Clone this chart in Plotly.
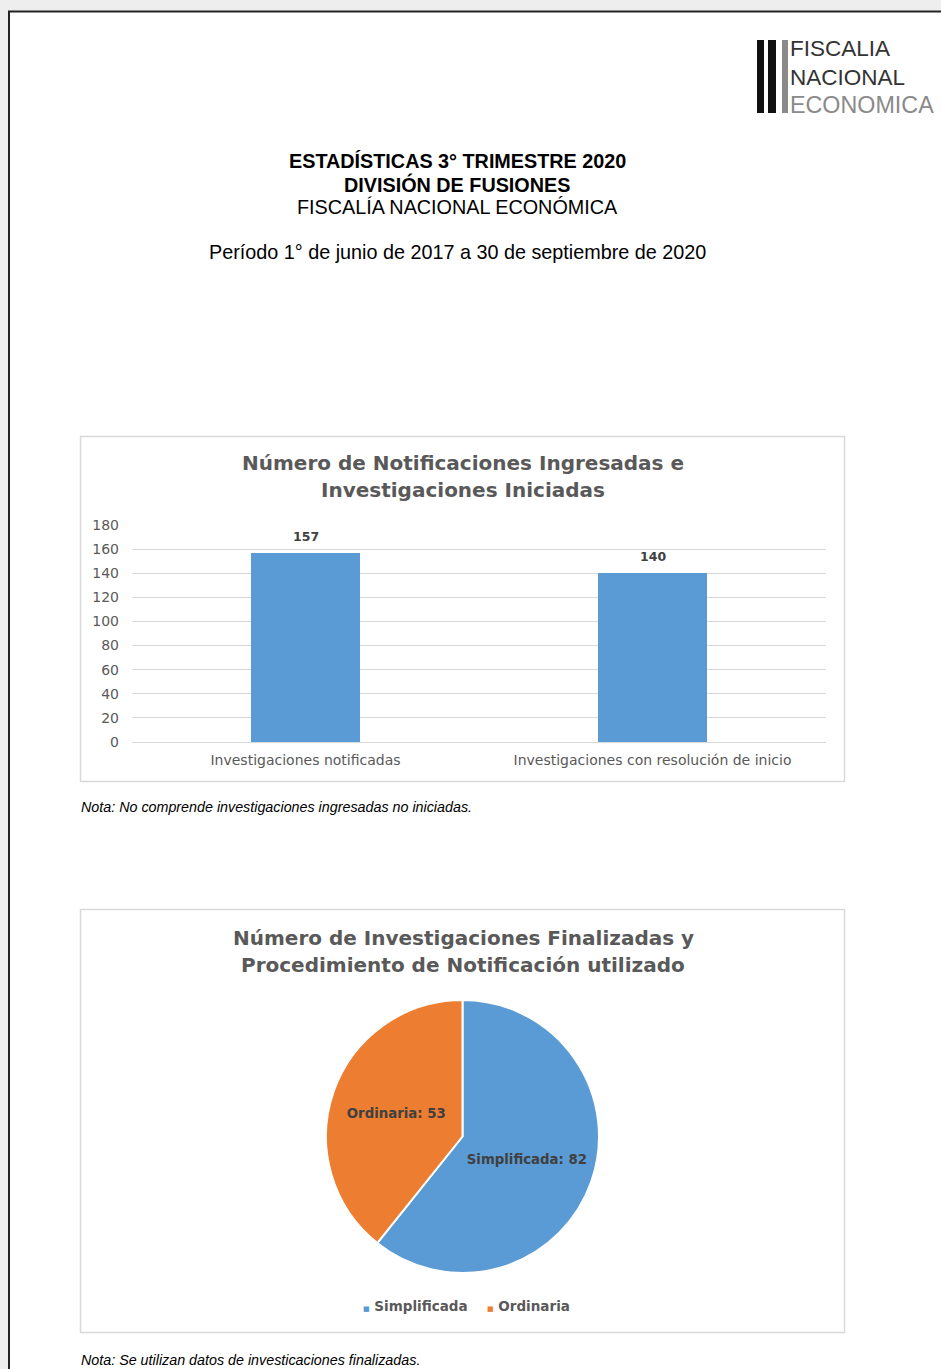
import plotly.graph_objects as go

W, H = 941, 1369

# ---- data ----
bar_categories = ["Investigaciones notificadas", "Investigaciones con resolución de inicio"]
bar_values = [157, 140]
y_ticks = [0, 20, 40, 60, 80, 100, 120, 140, 160, 180]

pie_labels = ["Simplificada", "Ordinaria"]
pie_values = [82, 53]
pie_colors = ["#5b9bd5", "#ed7d31"]

bar_title = ["Número de Notificaciones Ingresadas e", "Investigaciones Iniciadas"]
pie_title = ["Número de Investigaciones Finalizadas y", "Procedimiento de Notificación utilizado"]
header_lines = ["ESTADÍSTICAS 3° TRIMESTRE 2020", "DIVISIÓN DE FUSIONES", "FISCALÍA NACIONAL ECONÓMICA"]
period_text = "Período 1° de junio de 2017 a 30 de septiembre de 2020"
note1 = "Nota: No comprende investigaciones ingresadas no iniciadas."
note2 = "Nota: Se utilizan datos de investicaciones finalizadas."
logo_lines = ["FISCALIA", "NACIONAL", "ECONOMICA"]


def px(x):
    """page pixel x -> paper fraction"""
    return x / W


def py(y):
    """page pixel y -> paper fraction"""
    return 1 - y / H


SANS = "Liberation Sans, Arial, sans-serif"
WIDE = "DejaVu Sans, Verdana, sans-serif"
GRAY = "#595959"

fig = go.Figure()

fig.add_trace(go.Bar(
    x=bar_categories, y=bar_values,
    marker=dict(color="#5b9bd5", line=dict(width=0)),
    width=0.314,
    showlegend=False, hoverinfo="skip",
))

fig.add_trace(go.Pie(
    labels=pie_labels, values=pie_values,
    marker=dict(colors=pie_colors, line=dict(color="white", width=2)),
    sort=False, direction="clockwise", rotation=0,
    texttemplate="%{label}: %{value}", textposition="inside",
    insidetextorientation="horizontal",
    textfont=dict(family=WIDE, size=13.3, color="#404040", weight="bold"),
    domain=dict(x=[px(326), px(599)], y=[py(1273), py(1000)]),
    showlegend=False, hoverinfo="skip",
))

shapes = [
    # page
    dict(type="rect", xref="paper", yref="paper", x0=px(9), x1=1.05, y0=-0.05, y1=py(11.5),
         fillcolor="white", line=dict(color="#222222", width=2), layer="below"),
    # chart boxes
    dict(type="rect", xref="paper", yref="paper", x0=px(80.5), x1=px(844.5), y0=py(781.5), y1=py(436.5),
         fillcolor="rgba(0,0,0,0)", line=dict(color="#d9d9d9", width=1.5), layer="below"),
    dict(type="rect", xref="paper", yref="paper", x0=px(80.5), x1=px(844.5), y0=py(1332.5), y1=py(909.5),
         fillcolor="rgba(0,0,0,0)", line=dict(color="#d9d9d9", width=1.5), layer="below"),
    # logo bars
    dict(type="rect", xref="paper", yref="paper", x0=px(757), x1=px(764), y0=py(113), y1=py(40),
         fillcolor="#111111", line=dict(width=0)),
    dict(type="rect", xref="paper", yref="paper", x0=px(768), x1=px(776), y0=py(113), y1=py(40),
         fillcolor="#111111", line=dict(width=0)),
    dict(type="rect", xref="paper", yref="paper", x0=px(782), x1=px(788), y0=py(113), y1=py(40),
         fillcolor="#8a8a8a", line=dict(width=0)),
]

ann = []
# bar data labels (placed in data coordinates)
for cat, v in zip(bar_categories, bar_values):
    ann.append(dict(text=str(v), x=cat, y=v, xref="x", yref="y", xanchor="center", yanchor="bottom",
                    yshift=7, showarrow=False,
                    font=dict(family=WIDE, size=12.5, color="#404040", weight="bold")))
# logo text
logo_colors = ["#333333", "#333333", "#8a8a8a"]
logo_sizes = [22.5, 22.5, 23.3]
for i, t in enumerate(logo_lines):
    ann.append(dict(text=t, x=px(788), y=py(49 + 28 * i), xanchor="left", yanchor="middle",
                    font=dict(family=SANS, size=logo_sizes[i], color=logo_colors[i])))
# header
for i, t in enumerate(header_lines):
    ann.append(dict(text=t, x=px(457), y=py([161, 185, 207][i]), xanchor="center", yanchor="middle",
                    font=dict(family=SANS, size=19.8, color="black",
                              weight="bold" if i < 2 else "normal")))
ann.append(dict(text=period_text, x=px(457), y=py(252), xanchor="center", yanchor="middle",
                font=dict(family=SANS, size=19.8, color="black")))
# chart titles
for i, t in enumerate(bar_title):
    ann.append(dict(text=t, x=px(463), y=py([463, 490][i]), xanchor="center", yanchor="middle",
                    font=dict(family=WIDE, size=20, color=GRAY, weight="bold")))
for i, t in enumerate(pie_title):
    ann.append(dict(text=t, x=px(463), y=py([938, 965][i]), xanchor="center", yanchor="middle",
                    font=dict(family=WIDE, size=20, color=GRAY, weight="bold")))
# notes
ann.append(dict(text="<i>" + note1 + "</i>", x=px(79), y=py(807), xanchor="left", yanchor="middle",
                font=dict(family=SANS, size=14.3, color="black")))
ann.append(dict(text="<i>" + note2 + "</i>", x=px(79), y=py(1360), xanchor="left", yanchor="middle",
                font=dict(family=SANS, size=14.3, color="black")))
# pie legend
legend_x = [361, 485]
for lx, l, c in zip(legend_x, pie_labels, pie_colors):
    ann.append(dict(text=f'<span style="color:{c};font-size:7px">■</span> {l}', x=px(lx), y=py(1306),
                    xanchor="left", yanchor="middle",
                    font=dict(family=WIDE, size=13.5, color=GRAY, weight="bold")))

for a in ann:
    a.setdefault("xref", "paper")
    a.setdefault("yref", "paper")
    a["showarrow"] = False

fig.update_layout(
    width=W, height=H, autosize=False,
    margin=dict(l=0, r=0, t=0, b=0, pad=0, autoexpand=False),
    paper_bgcolor="#eeeeee", plot_bgcolor="white",
    shapes=shapes, annotations=ann,
    bargap=0,
    xaxis=dict(domain=[px(132), px(826)], showgrid=False, showline=False, ticks="", automargin=False,
               tickfont=dict(family=WIDE, size=14, color=GRAY), ticklabelstandoff=8, fixedrange=True),
    yaxis=dict(domain=[py(742), py(525)], range=[0, 180], tickvals=y_ticks, automargin=False,
               showgrid=True, gridcolor="#d9d9d9", gridwidth=1,
               zeroline=True, zerolinecolor="#d9d9d9", zerolinewidth=1,
               showline=False, ticks="", tickfont=dict(family=WIDE, size=14, color=GRAY),
               ticklabelstandoff=12, fixedrange=True),
)

fig.write_html(
    "out.html",
    config={"displayModeBar": False},
    post_script="document.body.style.margin='0';document.body.style.overflow='hidden';",
)
